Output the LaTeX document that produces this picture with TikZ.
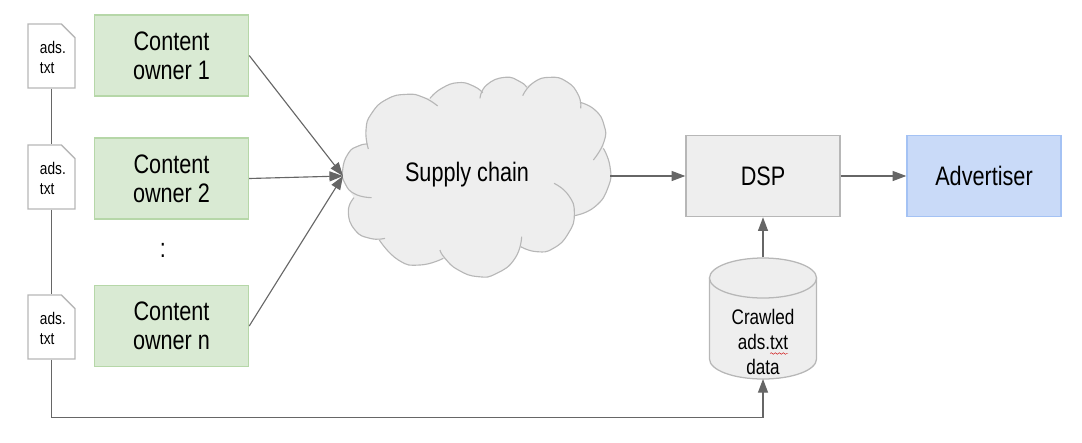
\documentclass[tikz,border=0pt]{standalone}
\usepackage{fontspec}
\setmainfont[FakeStretch=0.81]{Liberation Sans}
\usetikzlibrary{arrows.meta,positioning,calc,shapes.geometric,shapes.misc,decorations.pathmorphing}

\definecolor{ownerfill}{HTML}{D9EAD3}
\definecolor{ownerline}{HTML}{B6D7A8}
\definecolor{greyfill}{HTML}{EEEEEE}
\definecolor{greyline}{HTML}{B7B7B7}
\definecolor{advfill}{HTML}{C9DAF8}
\definecolor{advline}{HTML}{A4C2F4}
\definecolor{linkline}{HTML}{666666}

\tikzset{
  box/.style={draw,line width=1pt,minimum width=38.5mm,minimum height=20.3mm,inner sep=0pt,align=center,font=\fontsize{19}{20.5}\selectfont},
  owner/.style={box,fill=ownerfill,draw=ownerline,execute at begin node={\rule{0pt}{5.4mm}}},
  grey/.style={box,fill=greyfill,draw=greyline},
  doc/.style={draw=greyline,fill=white,line width=1pt,chamfered rectangle,chamfered rectangle corners=north east,chamfered rectangle xsep=1.7mm,chamfered rectangle ysep=1.7mm,minimum width=11.75mm,minimum height=16mm,inner sep=0pt,text width=5.75mm,align=left,font=\fontsize{12}{14.2}\selectfont,execute at begin node={\rule{0pt}{4mm}}},
  link/.style={draw=linkline,line width=0.8pt},
  arrow/.style={link,-{Triangle[length=3.4mm,width=2.5mm,fill=linkline]}},
  lobe/.style={draw=greyline,line width=0.8pt},
  drum/.style={draw=greyline,fill=greyfill,line width=0.9pt},
}

\begin{document}
\begin{tikzpicture}[x=0.025cm,y=-0.025cm]

\useasboundingbox (0,0) rectangle (1082,442);

% cloud
\begin{scope}[shift={(330,70)},x=0.008333cm,y=-0.008333cm]
\fill[greyfill] (38,300) -- (55,250) -- (85,228) -- (112,222) -- (108,180) -- (125,130) -- (170,88) -- (230,73) -- (300,85) -- (335,55) -- (385,38) -- (430,48) -- (452,68) -- (470,45) -- (525,22) -- (570,35) -- (585,50) -- (610,38) -- (660,22) -- (710,35) -- (745,75) -- (750,97) -- (795,120) -- (822,165) -- (820,235) -- (840,290) -- (835,350) -- (795,410) -- (733,437) -- (715,490) -- (670,535) -- (620,545) -- (573,530) -- (555,565) -- (500,610) -- (445,620) -- (385,600) -- (340,565) -- (270,585) -- (205,570) -- (148,510) -- (120,505) -- (75,480) -- (55,425) -- (72,383) -- (45,340) -- cycle;
\foreach \pts in {
  {(112,222) (85,228) (55,250) (38,300) (45,340) (75,372) (125,383)},
  {(72,383) (55,425) (75,480) (120,505) (165,505)},
  {(148,510) (205,570) (270,585) (340,565)},
  {(330,540) (345,565) (385,600) (445,620) (500,610) (555,565) (575,500)},
  {(572,530) (620,545) (670,535) (715,490) (733,430) (715,375) (672,340)},
  {(733,437) (795,410) (835,350) (840,290) (820,235)},
  {(790,270) (822,215) (822,165) (795,120) (750,97)},
  {(752,115) (745,75) (710,35) (660,22) (610,38) (578,77)},
  {(590,52) (570,35) (525,22) (470,45) (450,85)},
  {(458,68) (430,48) (385,38) (335,55) (300,85)},
  {(323,108) (280,82) (230,73) (170,88) (125,130) (108,180) (115,237)}}
{
  \edef\lobefill{\noexpand\fill[greyfill] plot[smooth,tension=0.9] coordinates {\pts};}\lobefill
}
\foreach \pts in {
  {(112,222) (85,228) (55,250) (38,300) (45,340) (75,372) (125,383)},
  {(72,383) (55,425) (75,480) (120,505) (165,505)},
  {(148,510) (205,570) (270,585) (340,565)},
  {(330,540) (345,565) (385,600) (445,620) (500,610) (555,565) (575,500)},
  {(572,530) (620,545) (670,535) (715,490) (733,430) (715,375) (672,340)},
  {(733,437) (795,410) (835,350) (840,290) (820,235)},
  {(790,270) (822,215) (822,165) (795,120) (750,97)},
  {(752,115) (745,75) (710,35) (660,22) (610,38) (578,77)},
  {(590,52) (570,35) (525,22) (470,45) (450,85)},
  {(458,68) (430,48) (385,38) (335,55) (300,85)},
  {(323,108) (280,82) (230,73) (170,88) (125,130) (108,180) (115,237)}}
{
  \edef\lobeline{\noexpand\draw[lobe] plot[smooth,tension=0.9] coordinates {\pts};}\lobeline
}
\end{scope}

\node[font=\fontsize{19}{20.5}\selectfont] (supply) at (467,175) {Supply chain};
\coordinate (cloudw) at (343,176);
\coordinate (cloude) at (610,176);

\node[owner] (owner1) at (171.5,55.5) {Content\\owner 1};
\node[owner] (owner2) at (171.5,178.5) {Content\\owner 2};
\node[owner] (ownern) at (171.5,326) {Content\\owner n};
\node[font=\fontsize{19}{20.5}\selectfont] (dots) at (163,250) {:};

\node[doc] (doc1) at (51.5,56) {ads.\\txt};
\node[doc] (doc2) at (51.5,177) {ads.\\txt};
\node[doc] (doc3) at (51.5,327) {ads.\\txt};

\node[grey] (dsp) at (763,176) {DSP};
\node[box,fill=advfill,draw=advline] (adv) at (984,176) {Advertiser};

% drum
\coordinate (crawledbase) at (763,379);
\draw[drum] (709.5,278) -- (709.5,359) .. controls (709.5,370) and (733,379) .. (crawledbase) .. controls (793,379) and (816.5,370) .. (816.5,359) -- (816.5,278) -- cycle;
\node[drum,ellipse,minimum width=26.75mm,minimum height=10mm,inner sep=0pt] (crawledtop) at (763,278) {};
\node[align=center,font=\fontsize{15}{17.8}\selectfont] (crawledtxt) at (763,342) {Crawled\\ads.txt\\data};
\coordinate (wavya) at (770,353.5);
\coordinate (wavyb) at (788,353.5);
\draw[red!80!black,line width=0.3pt,decorate,decoration={snake,amplitude=0.2mm,segment length=1mm}] (wavya) -- (wavyb);

\coordinate (busturn) at (51.5,417.5);

\draw[link] (doc1.south) -- (doc2.north);
\draw[link] (doc2.south) -- (doc3.north);
\draw[arrow] (doc3.south) -- (busturn) -| (crawledbase);
\draw[arrow] (owner1.east) -- (cloudw);
\draw[arrow] (owner2.east) -- (cloudw);
\draw[arrow] (ownern.east) -- (cloudw);
\draw[arrow] (cloude) -- (dsp.west);
\draw[arrow] (dsp.east) -- (adv.west);
\draw[arrow] (crawledtop.north) -- (dsp.south);

\end{tikzpicture}
\end{document}
